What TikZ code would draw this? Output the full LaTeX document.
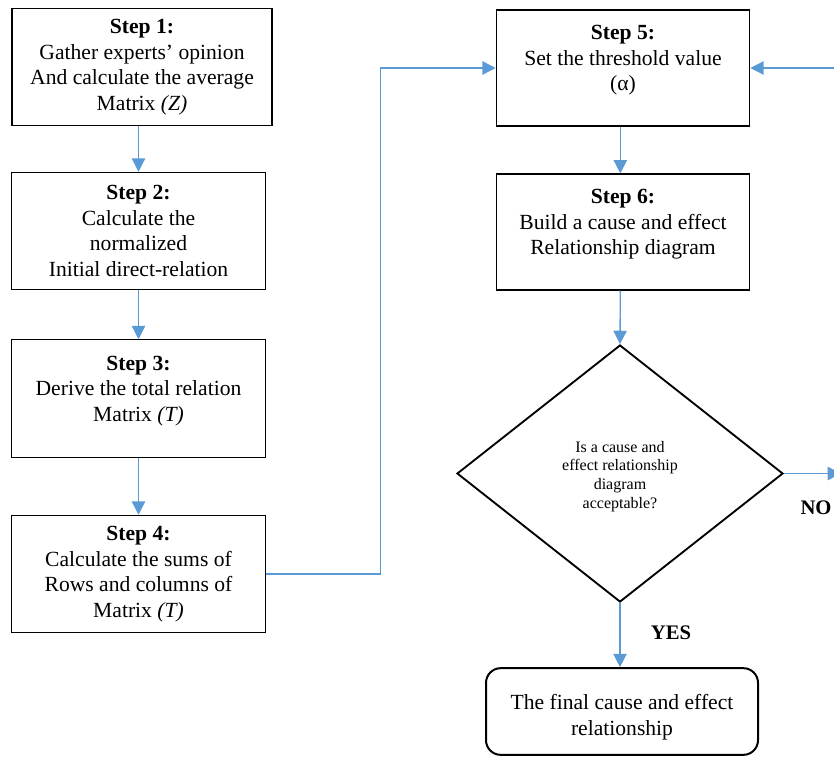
\documentclass[tikz,border=0pt]{standalone}
\usepackage{fontspec}
\setmainfont{Liberation Serif}
\usetikzlibrary{shapes.geometric,arrows.meta}
\definecolor{arrowblue}{HTML}{5B9BD5}
\begin{document}
\begin{tikzpicture}[x=0.75pt,y=-0.75pt,
  stepbox/.style={draw=black,line width=0.9pt,fill=white,align=center,inner sep=2pt,
    font=\fontsize{16.2pt}{19.2pt}\selectfont,minimum width=190pt,minimum height=88pt},
  conn/.style={draw=arrowblue,line width=1pt,-{Triangle[length=10pt,width=10pt]}},
  decision/.style={diamond,draw=black,line width=1.4pt,align=center,inner sep=0pt,
    minimum width=244.5pt,minimum height=192.75pt,font=\fontsize{12pt}{14pt}\selectfont},
  endbox/.style={draw=black,line width=1.5pt,rounded corners=11pt,align=center,
    minimum width=204pt,minimum height=65pt,font=\fontsize{16.2pt}{19.5pt}\selectfont},
  lbl/.style={font=\fontsize{15.5pt}{18pt}\selectfont\bfseries}]
\useasboundingbox (0,0) rectangle (834,756);
\clip (0,0) rectangle (834,756);
\node[stepbox,minimum width=195pt] (s1) at (142,67) {\textbf{Step 1:}\\Gather experts’ opinion\\And calculate the average\\Matrix \textit{(Z)}};
\node[stepbox] (s2) at (138.5,231) {\textbf{Step 2:}\\Calculate the\\normalized\\Initial direct-relation};
\node[stepbox] (s3) at (138.5,398.5) {\textbf{Step 3:}\\Derive the total relation\\Matrix \textit{(T)}\\[-4.2pt]\mbox{}};
\node[stepbox] (s4) at (138.5,574) {\textbf{Step 4:}\\Calculate the sums of\\Rows and columns of\\Matrix \textit{(T)}};
\node[stepbox,minimum height=87pt] (s5) at (623,68) {\textbf{Step 5:}\\Set the threshold value\\(α)\\[-4.2pt]\mbox{}};
\node[stepbox,minimum height=87pt] (s6) at (623,232) {\textbf{Step 6:}\\Build a cause and effect\\Relationship diagram\\[-4.2pt]\mbox{}};
\node[decision] (d) at (620,473.5) {\rule{0pt}{12.5pt}Is a cause and\\effect relationship\\diagram\\acceptable?};
\node[endbox] (f) at (622,711.5) {\rule{0pt}{20.5pt}The final cause and effect\\relationship};
\coordinate (noend) at (841,473.5);
\coordinate (back) at (834,68);
\draw[conn] (s2.north |- s1.south) -- (s2.north);
\draw[conn] (s2.south) -- (s3.north);
\draw[conn] (s3.south) -- (s4.north);
\draw[conn] (s4.east) -- ++(115,0) |- (s5.west);
\draw[conn] ([xshift=-2]s5.south) -- ([xshift=-2]s6.north);
\draw[conn] ([xshift=-2]s6.south) -- (d.north);
\draw[conn] (d.south) -- (f.north -| d.south);
\draw[conn] (d.east) -- (noend);
\draw[conn] (back) -- (s5.east);
\node[lbl] (yes) at (671,633) {YES};
\node[lbl] (no) at (816,508) {NO};
\end{tikzpicture}
\end{document}
